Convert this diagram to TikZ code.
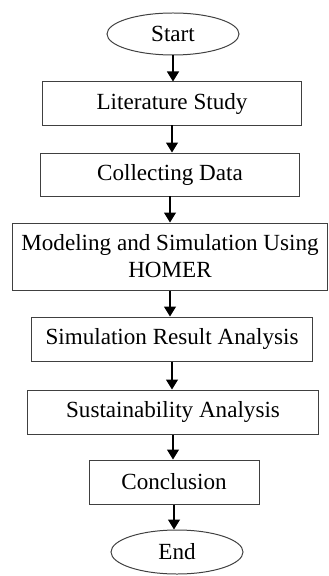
\documentclass[tikz,border=0pt]{standalone}
\usepackage{fontspec}
\setmainfont{Liberation Serif}
\usetikzlibrary{shapes.geometric,arrows.meta}

\begin{document}
\begin{tikzpicture}[x=0.5bp,y=-0.5bp,
  box/.style={draw=black!75,line width=0.5pt,rectangle,inner sep=0pt,align=center,font=\fontsize{11.6}{13.5}\selectfont},
  term/.style={draw=black!75,line width=0.5pt,ellipse,inner sep=0pt,font=\fontsize{11.6}{13.5}\selectfont},
  flow/.style={-{Triangle[width=6bp,length=5bp]},line width=0.6pt}]
\useasboundingbox (0,0) rectangle (328,576);
\path
  (173,34) node [term,minimum width=66bp,minimum height=21bp] (start) {Start}
  (172,103.5) node [box,minimum width=129bp,minimum height=21.5bp] (lit) {Literature Study}
  (170,174.5) node [box,minimum width=129bp,minimum height=21.5bp] (data) {Collecting Data}
  (170,256.5) node [box,minimum width=157.5bp,minimum height=33.5bp] (model) {Modeling and Simulation Using\\HOMER}
  (172,339) node [box,minimum width=140bp,minimum height=22bp] (simres) {Simulation Result Analysis}
  (173,412) node [box,minimum width=145bp,minimum height=22bp] (sust) {Sustainability Analysis}
  (174,482) node [box,minimum width=85bp,minimum height=22bp] (concl) {Conclusion}
  (177,552) node [term,minimum width=66bp,minimum height=22bp] (end) {End};
\draw [flow] (start) -- (start |- lit.north);
\draw [flow] (lit) -- (lit |- data.north);
\draw [flow] (data) -- (data |- model.north);
\draw [flow] (model) -- (model |- simres.north);
\draw [flow] (simres) -- (simres |- sust.north);
\draw [flow] (sust) -- (sust |- concl.north);
\draw [flow] (concl) -- (concl |- end.north);
\end{tikzpicture}
\end{document}
